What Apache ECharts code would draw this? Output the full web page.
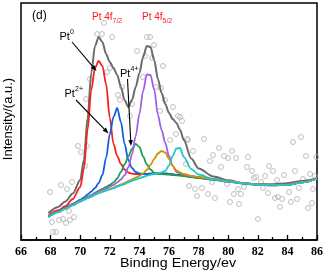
<!DOCTYPE html>
<html><head><meta charset="utf-8">
<script src="https://cdn.jsdelivr.net/npm/echarts@6/dist/echarts.min.js"></script>
<style>html,body{margin:0;padding:0;background:#fff}#c{width:326px;height:280px}</style>
</head><body><div id="c"></div>
<script>
// Binding energy grid (eV) shared by the fitted curves
const energy = [67.85, 68.5, 69, 69.5, 70, 70.25, 70.5, 70.75, 71, 71.25, 71.5, 71.75, 72, 72.25, 72.5, 72.75, 73, 73.25, 73.5, 73.75, 74, 74.25, 74.5, 74.75, 75, 75.25, 75.5, 75.75, 76, 76.25, 76.5, 76.75, 77, 77.5, 78, 79, 80, 81, 82, 83, 84, 85, 86];
// fitted envelope (gray)
const envelope = [26.7, 33, 38.5, 46.5, 60, 80, 122, 167, 194, 203, 198, 186, 178, 172, 165, 153, 140, 133, 140, 153, 167, 183, 194, 193, 180, 161, 147, 136, 127, 121, 117, 110, 100, 81.5, 71.5, 63.5, 59.7, 57, 55.5, 55.8, 56.8, 59, 61.8];
// Pt0 4f7/2 (red)
const pt0a = [24.3, 29.5, 33.8, 41, 53, 71, 110, 150, 172, 179, 174, 156, 122, 96, 84, 76, 70.5, 67.5, 66.3, 66, 66, 66, 66.2, 66.4, 66.5, 66.6, 66.6, 66.4, 66.1, 65.7, 65.2, 64.8, 64.3, 63.3, 62.3, 60.7, 58.6, 56.8, 55.5, 55, 55.4, 57.8, 61.7];
// Pt2+ 4f7/2 (blue)
const pt2a = [23.3, 28.3, 32, 36, 40, 42.5, 45.5, 48.5, 52, 57, 65, 82, 106, 123, 132, 118, 96, 80, 72, 68, 66.5, 66, 66, 66.3, 66.5, 66.6, 66.6, 66.4, 66.1, 65.7, 65.2, 64.8, 64.3, 63.3, 62.2, 60.6, 58.5, 56.7, 55.4, 54.9, 55.3, 57.7, 61.6];
// Pt4+ 4f7/2 (green)
const pt4a = [23.3, 28.2, 31.8, 35.5, 39.2, 41.2, 43, 44.8, 47.2, 49.2, 51.2, 53, 55, 57.7, 61.5, 68, 75.5, 83.5, 91, 96, 93, 83.5, 75.5, 70.5, 67.2, 66, 65.8, 65.6, 65.4, 65, 64.6, 64.3, 63.8, 62.8, 61.8, 60.2, 58.2, 56.4, 55.1, 54.6, 55.1, 57.6, 61.5];
// Pt0 4f5/2 (purple)
const pt0b = [23.2, 28, 31.7, 35.3, 39, 40.9, 42.8, 44.4, 46.7, 48.4, 50, 51.3, 53.2, 55.1, 57.7, 60.5, 64.8, 72.5, 85.5, 104, 126, 149, 165.5, 165, 150.5, 125, 110, 97, 84, 74, 68, 66.6, 65.5, 64, 62.7, 60.8, 58.5, 56.6, 55.2, 54.7, 55.2, 57.6, 61.6];
// Pt2+ 4f5/2 (orange)
const pt2b = [23, 27.8, 31.3, 34.8, 38.4, 40.2, 41.9, 43.4, 45.4, 47, 48.5, 49.6, 50.8, 52.3, 54, 55.6, 57, 58.8, 60.6, 62.3, 64.2, 66.6, 70, 75, 81, 86.5, 89, 87.5, 81, 74, 69.5, 67.5, 66, 64.2, 63, 61, 58.8, 56.9, 55.5, 54.9, 55.3, 57.7, 61.6];
// Pt4+ 4f5/2 (cyan)
const pt4b = [22.8, 27.7, 31.2, 34.7, 38.3, 40.1, 41.8, 43.3, 45.3, 46.8, 48.3, 49.4, 50.6, 51.9, 53.4, 54.8, 56, 57.6, 59.2, 60.5, 61.8, 63, 64.3, 65.2, 66, 66.8, 67.6, 69.2, 74.5, 84, 91.5, 92, 83, 71, 65.5, 60.8, 58.6, 56.8, 55.3, 54.7, 55.2, 57.6, 61.5];
// raw measured points [eV, intensity]
const rawPoints = [
 [71.61,217],[71.14,206],[71.47,206],[72.15,203],[70.66,161],[70.39,141],[71.81,168],[72.01,172],[72.55,145],[72.69,140],
 [72.82,153],[73.50,136],[73.36,124],[73.84,189],[74.51,203],[74.72,203],[74.99,195],[74.38,184],[74.85,182],[74.24,163],
 [75.59,174],[75.12,153],[75.46,152],[75.73,140],[76.27,133],[75.39,129],[76.61,124],[76.74,123],[76.88,119],[77.22,101],
 [78.36,101],[84.92,103],[84.38,98],
 [69.85,94],[70.46,94],[70.05,88],[70.32,74],[69.45,58],[69.11,51],[67.96,48],[68.70,55],[69.24,29],[69.58,23],
 [68.84,21],[68.57,20],[69.31,20],[69.04,17],[68.09,18],[68.16,8],[68.36,8],
 [76.47,106],[76.07,100],[77.28,100],[77.62,89],[78.97,85],[78.77,79],[77.15,76],[77.35,54],[77.76,51],[78.23,52],
 [77.89,44],[78.64,46],[79.11,42],[78.91,58],
 [79.38,92],[80.26,89],[79.72,84],[79.99,82],[80.53,82],[81.34,83],[79.51,73],[81.27,73],[81.61,69],[82.76,74],
 [83.03,69],[81.74,62],[81.88,63],[82.49,64],[83.77,65],[84.51,69],[85.53,66],[85.86,64],[85.26,84],[85.95,83],
 [82.22,58],[83.30,60],[85.05,61],[79.92,56],[80.66,51],[81.07,53],[82.35,52],[84.11,48],[80.39,46],[80.86,46],
 [83.16,42],[83.36,43],[83.64,41],[82.69,47],[84.24,38],[84.65,41],[84.78,52],[85.73,51],[80.12,38],[80.73,36],
 [83.50,33],[85.39,32],[85.66,37],[82.01,21]
];
const xTicks = [66, 68, 70, 72, 74, 76, 78, 80, 82, 84, 86];

const curves = [
  {d: envelope, c: '#6b6b6b', w: 2},
  {d: pt0a, c: '#f52222', w: 1.8},
  {d: pt2a, c: '#1060dc', w: 1.8},
  {d: pt4a, c: '#1e9e55', w: 1.8},
  {d: pt0b, c: '#a35ee6', w: 1.8},
  {d: pt2b, c: '#cc9200', w: 1.8},
  {d: pt4b, c: '#1ec8c8', w: 1.8}
];

function arrow(x1, y1, x2, y2) {
  const ang = Math.atan2(y2 - y1, x2 - x1);
  const L = 6, W = 2.3;
  const bx = x2 - L * Math.cos(ang), by = y2 - L * Math.sin(ang);
  const px = -Math.sin(ang) * W, py = Math.cos(ang) * W;
  return [
    {type: 'line', shape: {x1: x1, y1: y1, x2: bx, y2: by}, style: {stroke: '#000', lineWidth: 1.1}, z: 10},
    {type: 'polygon', shape: {points: [[x2, y2], [bx + px, by + py], [bx - px, by - py]]}, style: {fill: '#000'}, z: 10}
  ];
}
function txt(x, y, s, size, color, extra) {
  return Object.assign({type: 'text', x: x, y: y, z: 10,
    style: {text: s, fontSize: size, fontFamily: 'Liberation Sans, Arial, sans-serif', fill: color || '#000', verticalAlign: 'middle', align: 'left'}}, extra || {});
}

const chart = echarts.init(document.getElementById('c'), null, {renderer: 'canvas'});
chart.setOption({
  animation: false,
  backgroundColor: '#fff',
  grid: {left: 21, right: 9, top: 3, bottom: 40, show: true, borderColor: '#000', borderWidth: 1.5, containLabel: false, outerBoundsMode: 'none'},
  xAxis: {
    type: 'value', min: xTicks[0], max: xTicks[xTicks.length - 1], interval: 2,
    axisLine: {lineStyle: {color: '#000', width: 1.5}},
    axisTick: {inside: true, length: 5, lineStyle: {color: '#000', width: 1.3}},
    minorTick: {show: true, splitNumber: 2, length: 3, lineStyle: {color: '#000', width: 1.3}},
    splitLine: {show: false},
    axisLabel: {margin: 6, fontSize: 12, fontWeight: 'bold', color: '#000', fontFamily: 'Liberation Serif, Times New Roman, serif'}
  },
  yAxis: {type: 'value', min: 0, max: 237, axisLine: {show: false}, axisTick: {show: false}, axisLabel: {show: false}, splitLine: {show: false}},
  series: [
    {type: 'scatter', data: rawPoints, symbol: 'circle', symbolSize: 5, silent: true, z: 1,
     itemStyle: {color: 'rgba(0,0,0,0)', borderColor: '#b0b0b0', borderWidth: 1}}
  ].concat(curves.map(function (cv) {
    return {type: 'line', data: energy.map(function (e, i) { return [e, cv.d[i]]; }), smooth: 0.3, smoothMonotone: 'x',
      showSymbol: false, silent: true, z: 2, lineStyle: {color: cv.c, width: cv.w}};
  })),
  graphic: [
    txt(32, 16, '(d)', 12),
    txt(92, 17.5, 'Pt 4f', 10, '#ff1a1a'),
    txt(112.5, 21.5, '7/2', 7, '#ff1a1a'),
    txt(142, 17.5, 'Pt 4f', 10, '#ff1a1a'),
    txt(162.5, 21.5, '5/2', 7, '#ff1a1a'),
    txt(59.5, 36.5, 'Pt', 11),
    txt(70, 32.5, '0', 7),
    txt(64.5, 93.5, 'Pt', 11),
    txt(75, 89.5, '2+', 7),
    txt(120, 73.5, 'Pt', 11),
    txt(130.5, 69.5, '4+', 7),
    {type: 'text', x: 178, y: 263, z: 10, scaleX: 1.1,
     style: {text: 'Binding Energy/ev', fontSize: 13, fontFamily: 'Liberation Sans, Arial, sans-serif', fill: '#000', align: 'center', verticalAlign: 'middle'}},
    {type: 'text', x: 8.5, y: 119, z: 10, rotation: Math.PI / 2,
     style: {text: 'Intensity/(a.u.)', fontSize: 13, fontFamily: 'Liberation Sans, Arial, sans-serif', fill: '#000', align: 'center', verticalAlign: 'middle'}}
  ].concat(arrow(72, 42, 96.5, 71), arrow(76, 100, 108.5, 133.5), arrow(127.5, 79, 131, 146))
});
</script>
</body></html>
